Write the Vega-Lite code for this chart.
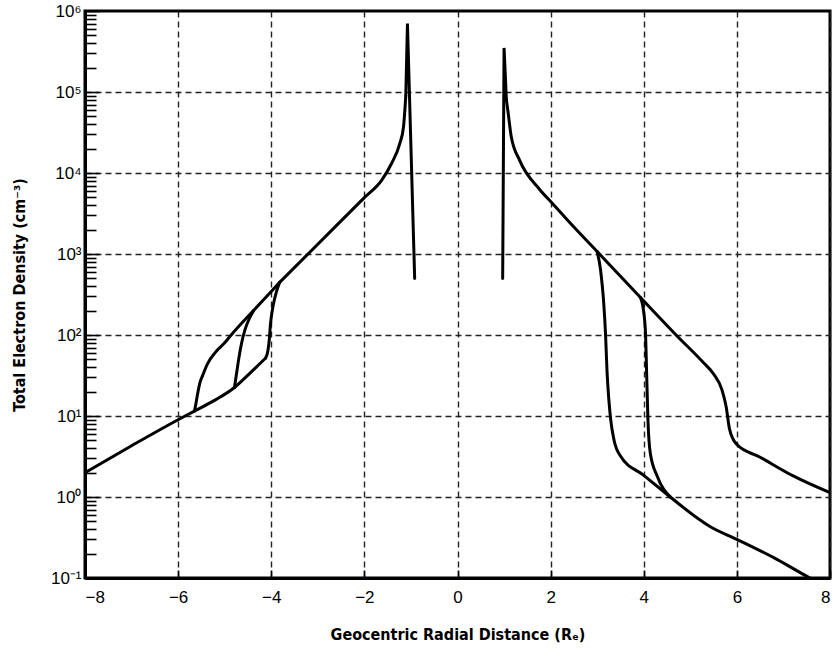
{
  "$schema": "https://vega.github.io/schema/vega-lite/v6.json",
  "width": 745,
  "height": 567,
  "autosize": {"type": "none"},
  "padding": {"left": 85, "top": 11, "right": 3, "bottom": 75},
  "background": "white",
  "config": {
    "view": {"stroke": "black", "strokeWidth": 3},
    "axis": {
      "domainColor": "black",
      "domainWidth": 3,
      "tickColor": "black",
      "tickWidth": 1.6,
      "labelColor": "black",
      "labelFont": "Liberation Sans",
      "labelFontSize": 17,
      "titleColor": "black",
      "titleFont": "DejaVu Sans Condensed, Liberation Sans Narrow, Liberation Sans, sans-serif",
      "titleFontWeight": "bold",
      "titleFontSize": 16,
      "gridColor": "#222",
      "gridDash": [6, 4],
      "gridWidth": 1.4
    }
  },
  "data": {
    "values": [
      {"seg": "left-lower", "r": -8, "n": 2.0},
      {"seg": "left-lower", "r": -7, "n": 4.3},
      {"seg": "left-lower", "r": -6, "n": 9.0},
      {"seg": "left-lower", "r": -5.65, "n": 11.5},
      {"seg": "left-lower", "r": -5.2, "n": 15.8},
      {"seg": "left-lower", "r": -4.79, "n": 22.5},
      {"seg": "left-lower", "r": -4.5, "n": 32},
      {"seg": "left-lower", "r": -4.12, "n": 52},

      {"seg": "left-outer", "r": -5.65, "n": 11.5},
      {"seg": "left-outer", "r": -5.62, "n": 14},
      {"seg": "left-outer", "r": -5.58, "n": 19},
      {"seg": "left-outer", "r": -5.53, "n": 26},
      {"seg": "left-outer", "r": -5.47, "n": 32},
      {"seg": "left-outer", "r": -5.37, "n": 44},
      {"seg": "left-outer", "r": -5.2, "n": 61},
      {"seg": "left-outer", "r": -5.0, "n": 80},
      {"seg": "left-outer", "r": -4.86, "n": 100},
      {"seg": "left-outer", "r": -4.4, "n": 195},
      {"seg": "left-outer", "r": -4.0, "n": 345},
      {"seg": "left-outer", "r": -3.82, "n": 447},

      {"seg": "left-middle", "r": -4.79, "n": 22.5},
      {"seg": "left-middle", "r": -4.75, "n": 32},
      {"seg": "left-middle", "r": -4.7, "n": 50},
      {"seg": "left-middle", "r": -4.64, "n": 78},
      {"seg": "left-middle", "r": -4.56, "n": 118},
      {"seg": "left-middle", "r": -4.47, "n": 160},
      {"seg": "left-middle", "r": -4.38, "n": 200},

      {"seg": "left-inner", "r": -4.12, "n": 52},
      {"seg": "left-inner", "r": -4.07, "n": 65},
      {"seg": "left-inner", "r": -4.04, "n": 90},
      {"seg": "left-inner", "r": -4.02, "n": 130},
      {"seg": "left-inner", "r": -4.0, "n": 165},
      {"seg": "left-inner", "r": -3.96, "n": 230},
      {"seg": "left-inner", "r": -3.89, "n": 340},
      {"seg": "left-inner", "r": -3.82, "n": 447},

      {"seg": "left-main", "r": -3.82, "n": 447},
      {"seg": "left-main", "r": -3.21, "n": 1000},
      {"seg": "left-main", "r": -2.5, "n": 2560},
      {"seg": "left-main", "r": -2.0, "n": 4970},
      {"seg": "left-main", "r": -1.63, "n": 8100},
      {"seg": "left-main", "r": -1.42, "n": 13000},
      {"seg": "left-main", "r": -1.24, "n": 23000},
      {"seg": "left-main", "r": -1.16, "n": 37000},
      {"seg": "left-main", "r": -1.11, "n": 90000},

      {"seg": "right-main", "r": 1.05, "n": 80000},
      {"seg": "right-main", "r": 1.08, "n": 60000},
      {"seg": "right-main", "r": 1.155, "n": 28000},
      {"seg": "right-main", "r": 1.33, "n": 14500},
      {"seg": "right-main", "r": 1.76, "n": 6300},
      {"seg": "right-main", "r": 2.04, "n": 4200},
      {"seg": "right-main", "r": 2.5, "n": 2150},
      {"seg": "right-main", "r": 3.0, "n": 1070},
      {"seg": "right-main", "r": 3.93, "n": 290},
      {"seg": "right-main", "r": 4.71, "n": 98},
      {"seg": "right-main", "r": 5.29, "n": 45},
      {"seg": "right-main", "r": 5.5, "n": 33},
      {"seg": "right-main", "r": 5.68, "n": 21},
      {"seg": "right-main", "r": 5.77, "n": 13},
      {"seg": "right-main", "r": 5.84, "n": 7.0},
      {"seg": "right-main", "r": 5.99, "n": 4.5},
      {"seg": "right-main", "r": 6.5, "n": 3.1},
      {"seg": "right-main", "r": 7.21, "n": 1.82},
      {"seg": "right-main", "r": 8, "n": 1.13},

      {"seg": "right-inner", "r": 3.0, "n": 1070},
      {"seg": "right-inner", "r": 3.07, "n": 650},
      {"seg": "right-inner", "r": 3.11, "n": 400},
      {"seg": "right-inner", "r": 3.14, "n": 250},
      {"seg": "right-inner", "r": 3.18, "n": 100},
      {"seg": "right-inner", "r": 3.21, "n": 37},
      {"seg": "right-inner", "r": 3.25, "n": 16},
      {"seg": "right-inner", "r": 3.29, "n": 9},
      {"seg": "right-inner", "r": 3.36, "n": 5.1},
      {"seg": "right-inner", "r": 3.5, "n": 3.2},
      {"seg": "right-inner", "r": 4.0, "n": 1.85},
      {"seg": "right-inner", "r": 4.57, "n": 1.0},

      {"seg": "right-middle", "r": 3.93, "n": 290},
      {"seg": "right-middle", "r": 4.0, "n": 190},
      {"seg": "right-middle", "r": 4.04, "n": 98},
      {"seg": "right-middle", "r": 4.06, "n": 37},
      {"seg": "right-middle", "r": 4.09, "n": 9},
      {"seg": "right-middle", "r": 4.14, "n": 3.5},
      {"seg": "right-middle", "r": 4.29, "n": 1.8},
      {"seg": "right-middle", "r": 4.57, "n": 1.0},

      {"seg": "right-lower", "r": 4.57, "n": 1.0},
      {"seg": "right-lower", "r": 5.43, "n": 0.43},
      {"seg": "right-lower", "r": 6.0, "n": 0.30},
      {"seg": "right-lower", "r": 6.86, "n": 0.17},
      {"seg": "right-lower", "r": 7.57, "n": 0.10},
      {"seg": "right-lower", "r": 8, "n": 0.075}
    ]
  },
  "datasets": {
    "spikes": [
      {"seg": "left-spike", "r": -1.11, "n": 90000},
      {"seg": "left-spike", "r": -1.075, "n": 700000},
      {"seg": "left-spike", "r": -0.92, "n": 500},
      {"seg": "right-spike", "r": 0.97, "n": 500},
      {"seg": "right-spike", "r": 1.0, "n": 350000},
      {"seg": "right-spike", "r": 1.05, "n": 80000}
    ]
  },
  "encoding": {
    "x": {
      "field": "r",
      "type": "quantitative",
      "scale": {"domain": [-8, 8], "nice": false, "zero": false},
      "axis": {
        "values": [-8, -6, -4, -2, 0, 2, 4, 6, 8],
        "format": "d",
        "grid": true,
        "tickSize": -8,
        "labelPadding": 19,
        "title": "Geocentric Radial Distance (Rₑ)",
        "titlePadding": 21
      }
    },
    "y": {
      "field": "n",
      "type": "quantitative",
      "scale": {"type": "log", "domain": [0.1, 1000000], "nice": false},
      "axis": {
        "values": [0.1, 0.2, 0.3, 0.4, 0.5, 0.6, 0.7, 0.8, 0.9,
                   1, 2, 3, 4, 5, 6, 7, 8, 9,
                   10, 20, 30, 40, 50, 60, 70, 80, 90,
                   100, 200, 300, 400, 500, 600, 700, 800, 900,
                   1000, 2000, 3000, 4000, 5000, 6000, 7000, 8000, 9000,
                   10000, 20000, 30000, 40000, 50000, 60000, 70000, 80000, 90000,
                   100000, 200000, 300000, 400000, 500000, 600000, 700000, 800000, 900000,
                   1000000],
        "grid": true,
        "gridOpacity": {
          "condition": {"test": "abs(log(datum.value)/LN10 - round(log(datum.value)/LN10)) < 0.001 && datum.value > 0.11 && datum.value < 900000", "value": 1},
          "value": 0
        },
        "tickSize": {
          "condition": {"test": "abs(log(datum.value)/LN10 - round(log(datum.value)/LN10)) < 0.001", "value": -14},
          "value": -11
        },
        "labelExpr": "abs(log(datum.value)/LN10 - round(log(datum.value)/LN10)) < 0.001 ? '10' + ['⁻¹','⁰','¹','²','³','⁴','⁵','⁶'][round(log(datum.value)/LN10) + 1] : ''",
        "labelPadding": 18,
        "labelFlush": false,
        "labelOverlap": false,
        "title": "Total Electron Density (cm⁻³)",
        "titlePadding": 23
      }
    }
  },
  "layer": [
    {
      "mark": {"type": "line", "color": "black", "strokeWidth": 3, "interpolate": "monotone", "clip": true, "strokeCap": "round", "strokeJoin": "round"},
      "encoding": {"detail": {"field": "seg"}}
    },
    {
      "data": {"name": "spikes"},
      "mark": {"type": "line", "color": "black", "strokeWidth": 3, "interpolate": "linear", "clip": true, "strokeCap": "round", "strokeJoin": "miter"},
      "encoding": {"detail": {"field": "seg"}}
    }
  ]
}
